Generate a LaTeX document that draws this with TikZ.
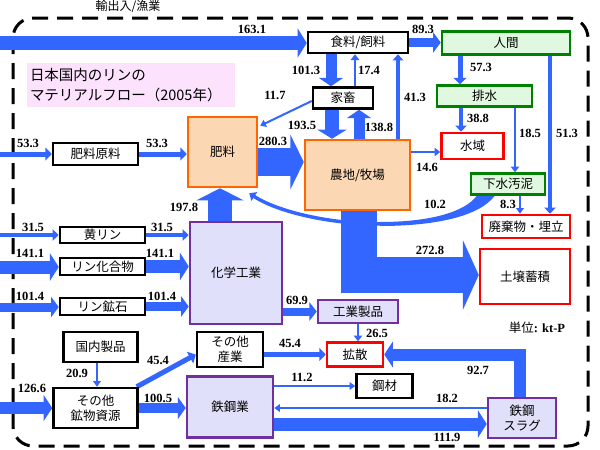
\documentclass[tikz,border=0pt]{standalone}
\usepackage{fontspec}
\setmainfont{Liberation Serif}
\newfontfamily\jp{Noto Sans CJK JP}
\usetikzlibrary{arrows.meta,backgrounds}

\definecolor{flowc}{RGB}{51,102,255}
\definecolor{orgline}{RGB}{255,102,0}
\definecolor{orgfill}{RGB}{252,215,180}
\definecolor{grnline}{RGB}{0,128,0}
\definecolor{grnfill}{RGB}{224,248,224}
\definecolor{prpline}{RGB}{112,48,160}
\definecolor{prpfill}{RGB}{224,224,250}
\definecolor{pinkfill}{RGB}{252,226,252}

\tikzset{
  box/.style={line width=2.5pt, inner sep=0pt, align=center,
    font=\jp\fontsize{12.5}{15}\selectfont},
  sz/.style 2 args={minimum width=#1pt, minimum height=#2pt},
  blkbox/.style={box, draw=black, fill=white},
  orgbox/.style={box, draw=orgline, fill=orgfill},
  grnbox/.style={box, draw=grnline, fill=grnfill},
  redbox/.style={box, draw=red, fill=white},
  prpbox/.style={box, draw=prpline, fill=prpfill},
  num/.style={font=\bfseries\fontsize{12.5}{14}\selectfont, inner sep=0pt},
  flow/.style={draw=flowc, line width=#1pt,
    -{Triangle[length=5pt 0.3, width=4pt 1.8]}},
}

\begin{document}
\begin{tikzpicture}[x=1pt,y=-1pt]
  \useasboundingbox (0,0) rectangle (600,450);
  % title
  \node[fill=pinkfill, minimum width=208pt, minimum height=44pt, text width=202pt,
    align=left, inner sep=0pt, font=\jp\fontsize{14.5}{20}\selectfont]
    (title) at (131,85) {日本国内のリンの\\マテリアルフロー（2005年）};
  \node[font=\jp\fontsize{12}{14}\selectfont] (frame) at (128,7) {輸出入/漁業};
  \node[inner sep=0pt] (unit) at (537,328)
    {{\jp\fontsize{12.5}{14}\selectfont 単位}\bfseries\fontsize{12.5}{14}\selectfont: kt-P};

  % boxes
  \node[blkbox, sz={100}{21}] (shokuryo) at (358,42.5) {食料/飼料};
  \node[grnbox, sz={128}{23}] (ningen) at (506,43) {人間};
  \node[blkbox, sz={60}{21}] (kachiku) at (343,98) {家畜};
  \node[grnbox, sz={95}{21}] (haisui) at (484.5,96) {排水};
  \node[orgbox, sz={69}{70}] (hiryo) at (222.5,152) {肥料};
  \node[orgbox, sz={105}{70}] (nouchi) at (357.5,175) {農地/牧場};
  \node[redbox, sz={62}{26}] (suiiki) at (472.5,146) {水域};
  \node[grnbox, sz={74}{21}] (gesui) at (508,184) {下水汚泥};
  \node[redbox, sz={88}{23}] (haiki) at (526,226.5) {廃棄物・埋立};
  \node[redbox, sz={90}{55}] (dojo) at (525,276.5) {土壌蓄積};
  \node[blkbox, sz={85}{22}] (genryo) at (95.5,154) {肥料原料};
  \node[blkbox, sz={85}{16}] (kourin) at (102.5,235) {黄リン};
  \node[blkbox, sz={85}{17}] (rinka) at (102.5,266.5) {リン化合物};
  \node[blkbox, sz={85}{17}] (rinko) at (102.5,306.5) {リン鉱石};
  \node[prpbox, sz={92}{102}] (kagaku) at (236,273) {化学工業};
  \node[prpbox, sz={80}{23}] (kougyo) at (358,311.5) {工業製品};
  \node[blkbox, sz={74}{30}] (kokunai) at (100.5,347) {国内製品};
  \node[blkbox, sz={66}{35}] (sonota) at (230,349.5) {その他\\産業};
  \node[redbox, sz={56}{24}] (kakusan) at (355,354.5) {拡散};
  \node[blkbox, sz={56}{24}] (kouzai) at (384.5,386) {鋼材};
  \node[blkbox, sz={84}{40}] (kobutsu) at (95.5,408) {その他\\鉱物資源};
  \node[prpbox, sz={86}{61}] (tekko) at (230,407) {鉄鋼業};
  \node[prpbox, sz={68}{40}] (slag) at (522,418) {鉄鋼\\スラグ};

  % inputs from outside
  \coordinate (in1) at (0,43);
  \coordinate (in2) at (0,154);
  \coordinate (in3) at (0,235);
  \coordinate (in4) at (0,267);
  \coordinate (in5) at (0,307);
  \coordinate (in6) at (0,408);

  \begin{scope}[on background layer]
    \draw[line width=3pt, dash pattern=on 16pt off 9pt, rounded corners=20pt]
      (13,18) rectangle (588,446);
    % food chain
    \draw[flow=14] (in1) -- (in1 -| shokuryo.west);
    \draw[flow=9] (shokuryo.east) -- (shokuryo.east -| ningen.west);
    \draw[flow=11] ([xshift=-27pt]shokuryo.south) -- ([xshift=-12pt]kachiku.north);
    \draw[flow=2.5] ([xshift=12pt]kachiku.north) -- ([xshift=-3pt]shokuryo.south);
    \draw[flow=3.5] ([xshift=40.5pt]nouchi.north) -- ([xshift=40pt]shokuryo.south);
    \draw[flow=5] ([xshift=-46pt]ningen.south) -- ([xshift=-24.5pt]haisui.north);
    \draw[flow=4] ([xshift=44pt]ningen.south) -- ([xshift=24pt]haiki.north);
    \draw[flow=4] ([xshift=-23.5pt]haisui.south) -- ([xshift=-11.5pt]suiiki.north);
    \draw[flow=2.5] ([xshift=30.5pt]haisui.south) -- ([xshift=7pt]gesui.north);
    \draw[flow=2] ([xshift=12pt]gesui.south) -- ([xshift=-6pt]haiki.north);
    \draw[flow=2.5] ([yshift=23pt]nouchi.east) -- ([yshift=-6pt]suiiki.west);
    \draw[flow=2] ([yshift=-3pt]kachiku.west) -- ([xshift=2pt,yshift=-10pt]hiryo.north east);
    \draw[flow=14] ([xshift=-11pt]kachiku.south) -- ([xshift=-25.5pt]nouchi.north);
    \draw[flow=11] ([xshift=1.5pt]nouchi.north) -- ([xshift=16pt]kachiku.south);
    \draw[flow=28] ([yshift=-10pt]hiryo.east) -- ([yshift=13pt]nouchi.west);
    \draw[flow=24] ([xshift=-16pt]kagaku.north) -- ([xshift=-2.5pt]hiryo.south);
    \draw[flow=36] ([xshift=1.5pt]nouchi.south) |- ([yshift=1.5pt]dojo.west);
    % sludge back to fertilizer
    \fill[flowc] ([xshift=25pt]gesui.south west) .. controls (478,218) and (430,226) .. (380,226)
      -- (380,222) .. controls (430,222) and (465,212) .. ([xshift=7pt]gesui.south west) -- cycle;
    \draw[flow=3.5] (381,224) .. controls (330,224) and (278,212) .. ([xshift=-9pt,yshift=-5pt]hiryo.south east);
    % raw materials
    \draw[flow=5] (in2) -- (genryo.west);
    \draw[flow=5] (genryo.east) -- (genryo.east -| hiryo.west);
    \draw[flow=4] (in3) -- (kourin.west);
    \draw[flow=4] (kourin.east) -- (kourin.east -| kagaku.west);
    \draw[flow=13] (in4) -- (in4 -| rinka.west);
    \draw[flow=13] (rinka.east) -- (rinka.east -| kagaku.west);
    \draw[flow=9] (in5) -- (in5 -| rinko.west);
    \draw[flow=9] (rinko.east) -- (rinko.east -| kagaku.west);
    % industry
    \draw[flow=8] ([yshift=-38.5pt]kagaku.east) -- (kougyo.west);
    \draw[flow=2.5] (kougyo.south) -- ([xshift=3pt]kakusan.north);
    \draw[flow=5] ([yshift=-5pt]sonota.east) -- (kakusan.west);
    \draw[flow=12] ([xshift=-2pt]slag.north) |- (kakusan.east);
    \draw[flow=2] ([yshift=21pt]tekko.east) -- (kouzai.west);
    \draw[flow=2] ([yshift=10pt]slag.west) -- ([yshift=-1pt]tekko.east);
    \draw[flow=13] ([yshift=-17pt]tekko.east) -- ([yshift=-6pt]slag.west);
    \draw[flow=10] (kobutsu.east) -- (kobutsu.east -| tekko.west);
    \draw[flow=5] ([xshift=-2pt]kobutsu.north east) -- ([yshift=-5pt]sonota.west);
    \draw[flow=2] ([xshift=-3.5pt]kokunai.south) -- ([xshift=1.5pt]kobutsu.north);
    \draw[flow=12] (in6) -- (in6 -| kobutsu.west);
  \end{scope}

  % flow values
  \node[num] (v1631) at (252,29) {163.1};
  \node[num] (v893) at (423,29) {89.3};
  \node[num] (v1013) at (306,70) {101.3};
  \node[num] (v174) at (369,70) {17.4};
  \node[num] (v413) at (415,97) {41.3};
  \node[num] (v573) at (481,67) {57.3};
  \node[num] (v388) at (478,118) {38.8};
  \node[num] (v185) at (530,133) {18.5};
  \node[num] (v513) at (567,133) {51.3};
  \node[num] (v117) at (275,95) {11.7};
  \node[num] (v1935) at (302,125) {193.5};
  \node[num] (v1388) at (379,127) {138.8};
  \node[num] (v2803) at (273,141) {280.3};
  \node[num] (v146) at (427,167) {14.6};
  \node[num] (v102) at (435,204) {10.2};
  \node[num] (v83) at (508,204) {8.3};
  \node[num] (v1978) at (184,207) {197.8};
  \node[num] (v2728) at (430,250) {272.8};
  \node[num] (v533a) at (28,143) {53.3};
  \node[num] (v533b) at (157,143) {53.3};
  \node[num] (v315a) at (33,227) {31.5};
  \node[num] (v315b) at (162,227) {31.5};
  \node[num] (v1411a) at (30,253) {141.1};
  \node[num] (v1411b) at (160,253) {141.1};
  \node[num] (v1014a) at (30,296) {101.4};
  \node[num] (v1014b) at (162,296) {101.4};
  \node[num] (v699) at (297,300) {69.9};
  \node[num] (v454b) at (290,343) {45.4};
  \node[num] (v265) at (377,333) {26.5};
  \node[num] (v112) at (302,377) {11.2};
  \node[num] (v927) at (478,370) {92.7};
  \node[num] (v182) at (447,398) {18.2};
  \node[num] (v1119) at (447,437) {111.9};
  \node[num] (v454a) at (158,360) {45.4};
  \node[num] (v209) at (77,373) {20.9};
  \node[num] (v1266) at (32,388) {126.6};
  \node[num] (v1005) at (158,398) {100.5};
\end{tikzpicture}
\end{document}
